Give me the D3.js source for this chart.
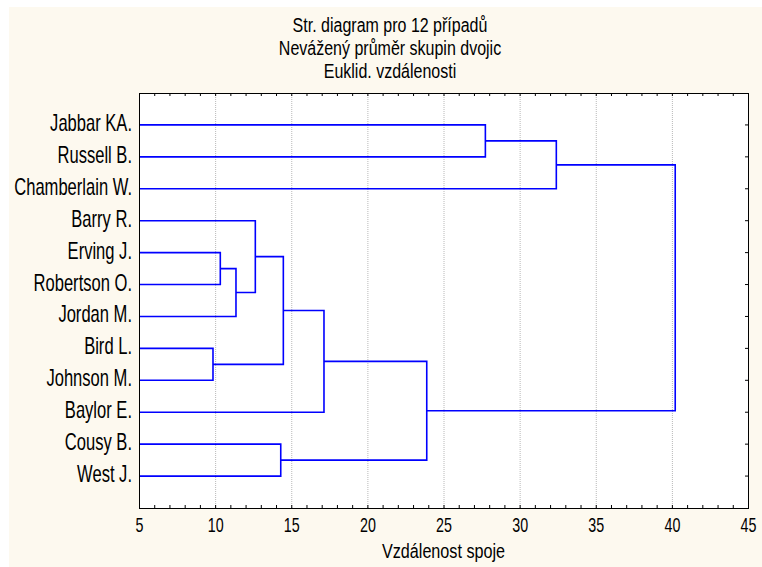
<!DOCTYPE html>
<html>
<head>
<meta charset="utf-8">
<script src="https://cdn.jsdelivr.net/npm/d3@7"></script>
<style>
  body { margin: 0; background: #fff; }
  text { font-family: "Liberation Sans", Arial, sans-serif; fill: #000; }
</style>
</head>
<body>
<svg id="chart" width="762" height="567"></svg>
<script>
var titleLines = ["Str. diagram pro 12 případů", "Nevážený průměr skupin dvojic", "Euklid. vzdálenosti"];
var xTitle = "Vzdálenost spoje";

var leaves = ["Jabbar KA.", "Russell B.", "Chamberlain W.", "Barry R.", "Erving J.", "Robertson O.",
  "Jordan M.", "Bird L.", "Johnson M.", "Baylor E.", "Cousy B.", "West J."];

// linkage rows: [a, b, distance]; index < 12 is a leaf, 12 and up is an earlier row
var merges = [
  [4, 5, 10.34],    // 12
  [7, 8, 9.86],     // 13
  [12, 6, 11.37],   // 14
  [3, 14, 12.64],   // 15
  [10, 11, 14.31],  // 16
  [15, 13, 14.48],  // 17
  [17, 9, 17.15],   // 18
  [18, 16, 23.9],   // 19
  [0, 1, 27.75],    // 20
  [20, 2, 32.41],   // 21
  [21, 19, 40.22]   // 22
];

var xTicks = [5, 10, 15, 20, 25, 30, 35, 40, 45];
var xMinorTicks = d3.range(5, 46, 1);
var xGrid = [10, 15, 20, 25, 30, 35, 40];

var svg = d3.select("#chart");
var plot = {left: 139, right: 748, top: 93, bottom: 508};

// the old screen font is very narrow, squeeze text horizontally
var squeeze = function(k) { return "scale(" + k + ",1)"; };

// cream window background
svg.append("rect")
  .attr("x", 9).attr("y", 7)
  .attr("width", 753).attr("height", 560)
  .attr("fill", "#fdf9ef");

var x = d3.scaleLinear()
  .domain([5, 45])
  .range([plot.left, plot.right]);

var y = d3.scalePoint()
  .domain(leaves)
  .range([plot.top, plot.bottom])
  .padding(1);

svg.append("rect")
  .attr("x", plot.left).attr("y", plot.top)
  .attr("width", plot.right - plot.left).attr("height", plot.bottom - plot.top)
  .attr("fill", "#fff");

// grid
svg.append("g").selectAll("line")
  .data(xGrid)
  .enter().append("line")
  .attr("x1", function(d) { return x(d) + 0.5; })
  .attr("x2", function(d) { return x(d) + 0.5; })
  .attr("y1", plot.top)
  .attr("y2", plot.bottom)
  .attr("stroke", "#b8b8b8")
  .attr("stroke-dasharray", "1,1");

// node positions
var nodeX = [], nodeY = [];
leaves.forEach(function(name, i) {
  nodeX[i] = x(5);
  nodeY[i] = y(name);
});
merges.forEach(function(m, i) {
  var k = leaves.length + i;
  nodeX[k] = x(m[2]);
  nodeY[k] = (nodeY[m[0]] + nodeY[m[1]]) / 2;
});

svg.append("g").selectAll("path")
  .data(merges)
  .enter().append("path")
  .attr("d", function(m) {
    var xm = x(m[2]);
    return "M" + nodeX[m[0]] + "," + nodeY[m[0]] +
      "H" + xm + "V" + nodeY[m[1]] + "H" + nodeX[m[1]];
  })
  .attr("fill", "none")
  .attr("stroke", "#0000ff")
  .attr("stroke-width", 1.6);

// frame
svg.append("rect")
  .attr("x", plot.left + 0.5).attr("y", plot.top + 0.5)
  .attr("width", plot.right - plot.left).attr("height", plot.bottom - plot.top)
  .attr("fill", "none")
  .attr("stroke", "#000");

// inward minor ticks top and bottom, row ticks on the right
var ticks = svg.append("g").attr("stroke", "#000");
xMinorTicks.forEach(function(d) {
  ticks.append("line")
    .attr("x1", x(d) + 0.5).attr("x2", x(d) + 0.5)
    .attr("y1", plot.top).attr("y2", plot.top + 3);
  ticks.append("line")
    .attr("x1", x(d) + 0.5).attr("x2", x(d) + 0.5)
    .attr("y1", plot.bottom + 0.5).attr("y2", plot.bottom - 3);
});
leaves.forEach(function(d) {
  ticks.append("line")
    .attr("x1", plot.right + 0.5).attr("x2", plot.right - 3)
    .attr("y1", y(d)).attr("y2", y(d));
});

// x axis labels
var xAxis = svg.append("g")
  .attr("transform", "translate(0," + plot.bottom + ")")
  .call(d3.axisBottom(x).tickValues(xTicks).tickSize(0).tickPadding(9));
xAxis.select(".domain").remove();
xAxis.attr("font-family", null).attr("font-size", null);
xAxis.selectAll("text")
  .style("font-size", "21px")
  .attr("transform", squeeze(0.68));

// leaf labels
svg.append("g").selectAll("text")
  .data(leaves)
  .enter().append("text")
  .attr("transform", function(d) {
    return "translate(" + (plot.left - 7) + "," + (y(d) + 6) + ")" + squeeze(0.72);
  })
  .attr("text-anchor", "end")
  .style("font-size", "23px")
  .text(function(d) { return d; });

// titles
svg.append("g").selectAll("text")
  .data(titleLines)
  .enter().append("text")
  .attr("transform", function(d, i) {
    return "translate(390," + (32 + i * 23) + ")" + squeeze(0.8);
  })
  .attr("text-anchor", "middle")
  .style("font-size", "20px")
  .text(function(d) { return d; });

svg.append("text")
  .attr("transform", "translate(" + (plot.left + plot.right) / 2 + ",558)" + squeeze(0.77))
  .attr("text-anchor", "middle")
  .style("font-size", "21px")
  .text(xTitle);
</script>
</body>
</html>
